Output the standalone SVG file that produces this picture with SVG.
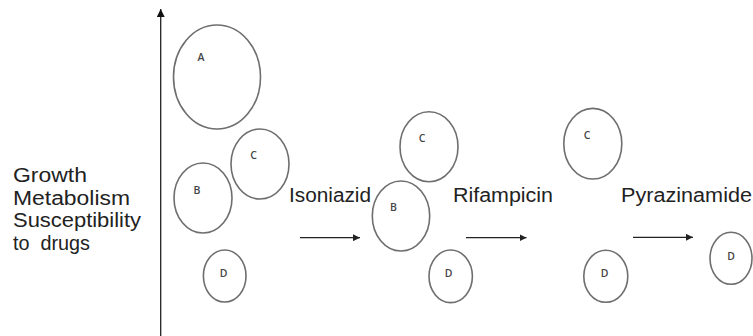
<svg xmlns="http://www.w3.org/2000/svg" width="753" height="336" viewBox="0 0 753 336">
<defs>
<style>
.cell{fill:none;stroke:#6e6e6e;stroke-width:1.6}
.lbl{font-family:"Open Sans","Liberation Sans",Arial,sans-serif;font-size:10.5px;font-weight:600;fill:#444;text-anchor:middle}
.big{font-family:"Liberation Sans",Arial,sans-serif;font-size:20px;fill:#222;white-space:pre}
.side{font-family:"Liberation Sans",Arial,sans-serif;font-size:19.5px;fill:#222;white-space:pre}
.conn{stroke:#222;stroke-width:1.3;fill:none}
</style>
<marker id="ah" viewBox="0 0 10 10" refX="10" refY="5" markerWidth="7" markerHeight="7" markerUnits="userSpaceOnUse" orient="auto">
<path d="M0,0 L10,5 L0,10 z" fill="#222"/>
</marker>
<marker id="axh" viewBox="0 0 10 10" refX="10" refY="5" markerWidth="9" markerHeight="8" markerUnits="userSpaceOnUse" orient="auto">
<path d="M0,0 L10,5 L0,10 z" fill="#111"/>
</marker>
</defs>
<rect width="753" height="336" fill="#fff"/>
<g id="axis-labels">
<text class="side" x="13" y="182" textLength="74" lengthAdjust="spacingAndGlyphs">Growth</text>
<text class="side" x="13" y="204.5" textLength="117" lengthAdjust="spacingAndGlyphs">Metabolism</text>
<text class="side" x="13" y="227" textLength="128" lengthAdjust="spacingAndGlyphs">Susceptibility</text>
<text class="side" x="13" y="249.5" textLength="77" lengthAdjust="spacingAndGlyphs">to  drugs</text>
</g>
<g id="connectors">
<line class="conn" x1="160.7" y1="336" x2="160.7" y2="9" stroke-width="2" marker-end="url(#axh)"/>
<line class="conn" x1="300" y1="237.7" x2="360" y2="237.7" marker-end="url(#ah)"/>
<line class="conn" x1="466" y1="237.7" x2="526.5" y2="237.7" marker-end="url(#ah)"/>
<line class="conn" x1="633" y1="237.3" x2="693" y2="237.3" marker-end="url(#ah)"/>
</g>
<g id="drug-labels">
<text class="big" x="289" y="202" textLength="82" lengthAdjust="spacingAndGlyphs">Isoniazid</text>
<text class="big" x="453" y="202" textLength="100" lengthAdjust="spacingAndGlyphs">Rifampicin</text>
<text class="big" x="621" y="202" textLength="131" lengthAdjust="spacingAndGlyphs">Pyrazinamide</text>
</g>
<g id="A1"><ellipse class="cell" cx="217" cy="77" rx="43.5" ry="52"/><text class="lbl" x="201" y="61">A</text></g>
<g id="C1"><ellipse class="cell" cx="260" cy="164" rx="29" ry="35"/><text class="lbl" x="253.5" y="159">C</text></g>
<g id="B1"><ellipse class="cell" cx="203" cy="198" rx="29" ry="35"/><text class="lbl" x="197" y="194">B</text></g>
<g id="D1"><ellipse class="cell" cx="224.7" cy="276" rx="21.3" ry="26"/><text class="lbl" x="223.5" y="277">D</text></g>
<g id="C2"><ellipse class="cell" cx="429" cy="146.7" rx="29" ry="35"/><text class="lbl" x="422" y="142">C</text></g>
<g id="B2"><ellipse class="cell" cx="401" cy="216" rx="28.7" ry="35"/><text class="lbl" x="393.5" y="210.5">B</text></g>
<g id="D2"><ellipse class="cell" cx="450.7" cy="276.3" rx="21.7" ry="26.3"/><text class="lbl" x="448.5" y="276.5">D</text></g>
<g id="C3"><ellipse class="cell" cx="592.8" cy="143.7" rx="29" ry="35.3"/><text class="lbl" x="587" y="139">C</text></g>
<g id="D3"><ellipse class="cell" cx="605.8" cy="276.3" rx="22" ry="26"/><text class="lbl" x="604.5" y="277">D</text></g>
<g id="D4"><ellipse class="cell" cx="731" cy="258.3" rx="21" ry="26"/><text class="lbl" x="731" y="259.5">D</text></g>
</svg>
